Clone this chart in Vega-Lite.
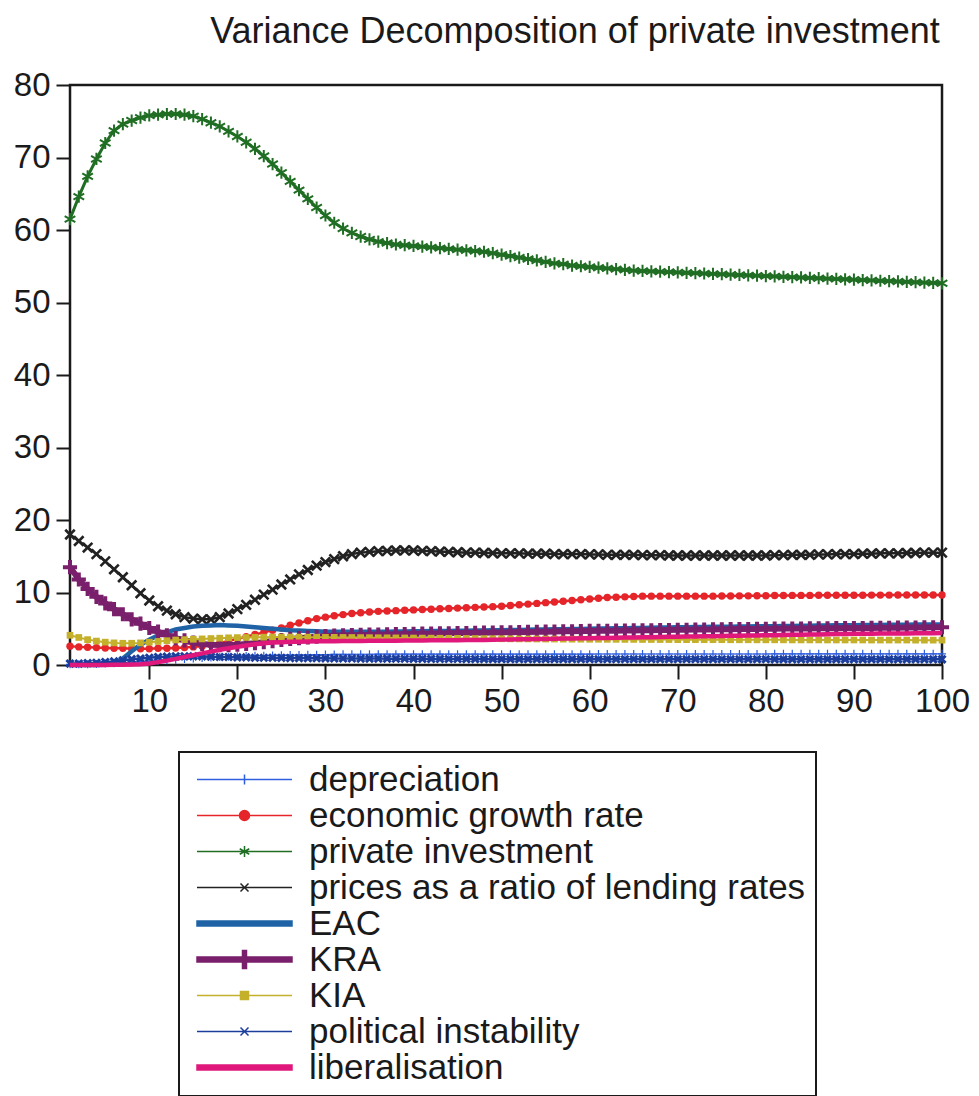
{
"$schema": "https://vega.github.io/schema/vega-lite/v6.json",
"autosize": {"type": "none"},
"padding": {"left": 70, "top": 85, "right": 37, "bottom": 431},
"width": 872,
"height": 580,
"background": "white",
"title": {"text": "Variance Decomposition of private investment", "fontSize": 36, "font": "Liberation Sans", "fontWeight": "normal", "color": "#1a1a1a", "anchor": "middle", "dx": 69, "offset": 18},
"data": {"values": [
{"p":1,"dep":0.1,"egr":2.6,"pi":61.5,"pr":18,"eac":0,"kra":13.5,"kia":4.1,"pol":0.2,"lib":0},
{"p":2,"dep":0.1,"egr":2.5,"pi":64.6,"pr":17.1,"eac":0,"kra":11.8,"kia":3.8,"pol":0.2,"lib":0},
{"p":3,"dep":0.12,"egr":2.45,"pi":67.4,"pr":16.2,"eac":0,"kra":10.5,"kia":3.5,"pol":0.25,"lib":0},
{"p":4,"dep":0.15,"egr":2.4,"pi":69.8,"pr":15.3,"eac":0,"kra":9.4,"kia":3.3,"pol":0.3,"lib":0},
{"p":5,"dep":0.2,"egr":2.35,"pi":72,"pr":14.3,"eac":0.05,"kra":8.5,"kia":3.15,"pol":0.4,"lib":0.01},
{"p":6,"dep":0.25,"egr":2.3,"pi":73.7,"pr":13.2,"eac":0.2,"kra":7.7,"kia":3.05,"pol":0.5,"lib":0.02},
{"p":7,"dep":0.3,"egr":2.3,"pi":74.6,"pr":12.1,"eac":0.9,"kra":7,"kia":3,"pol":0.65,"lib":0.04},
{"p":8,"dep":0.36,"egr":2.25,"pi":75.1,"pr":11,"eac":1.9,"kra":6.3,"kia":3,"pol":0.8,"lib":0.07},
{"p":9,"dep":0.43,"egr":2.25,"pi":75.5,"pr":9.9,"eac":2.8,"kra":5.7,"kia":3.05,"pol":0.9,"lib":0.12},
{"p":10,"dep":0.5,"egr":2.25,"pi":75.8,"pr":8.9,"eac":3.5,"kra":5.1,"kia":3.15,"pol":1,"lib":0.2},
{"p":11,"dep":0.58,"egr":2.3,"pi":75.9,"pr":8.1,"eac":4.1,"kra":4.6,"kia":3.25,"pol":1.1,"lib":0.4},
{"p":12,"dep":0.66,"egr":2.3,"pi":76,"pr":7.5,"eac":4.5,"kra":4.1,"kia":3.35,"pol":1.15,"lib":0.6},
{"p":13,"dep":0.74,"egr":2.35,"pi":76,"pr":7,"eac":4.9,"kra":3.7,"kia":3.45,"pol":1.2,"lib":0.85},
{"p":14,"dep":0.82,"egr":2.4,"pi":75.9,"pr":6.6,"eac":5.1,"kra":3.4,"kia":3.5,"pol":1.2,"lib":1.1},
{"p":15,"dep":0.9,"egr":2.5,"pi":75.7,"pr":6.4,"eac":5.3,"kra":3.1,"kia":3.55,"pol":1.2,"lib":1.35},
{"p":16,"dep":0.97,"egr":2.6,"pi":75.3,"pr":6.3,"eac":5.4,"kra":2.9,"kia":3.6,"pol":1.2,"lib":1.6},
{"p":17,"dep":1.03,"egr":2.8,"pi":74.8,"pr":6.3,"eac":5.45,"kra":2.8,"kia":3.65,"pol":1.15,"lib":1.85},
{"p":18,"dep":1.09,"egr":3,"pi":74.3,"pr":6.6,"eac":5.5,"kra":2.75,"kia":3.7,"pol":1.1,"lib":2.1},
{"p":19,"dep":1.14,"egr":3.3,"pi":73.6,"pr":7.1,"eac":5.45,"kra":2.75,"kia":3.75,"pol":1.1,"lib":2.3},
{"p":20,"dep":1.2,"egr":3.6,"pi":72.9,"pr":7.7,"eac":5.4,"kra":2.8,"kia":3.78,"pol":1.05,"lib":2.5},
{"p":21,"dep":1.23,"egr":3.9,"pi":72.1,"pr":8.3,"eac":5.3,"kra":2.9,"kia":3.8,"pol":1.05,"lib":2.7},
{"p":22,"dep":1.26,"egr":4.2,"pi":71.2,"pr":9,"eac":5.2,"kra":3,"kia":3.82,"pol":1,"lib":2.85},
{"p":23,"dep":1.29,"egr":4.5,"pi":70.2,"pr":9.7,"eac":5.1,"kra":3.15,"kia":3.84,"pol":1,"lib":3},
{"p":24,"dep":1.32,"egr":4.8,"pi":69.1,"pr":10.4,"eac":5,"kra":3.3,"kia":3.85,"pol":1,"lib":3.1},
{"p":25,"dep":1.35,"egr":5.1,"pi":67.9,"pr":11.1,"eac":4.9,"kra":3.45,"kia":3.85,"pol":0.98,"lib":3.15},
{"p":26,"dep":1.37,"egr":5.5,"pi":66.7,"pr":11.8,"eac":4.8,"kra":3.6,"kia":3.85,"pol":0.96,"lib":3.2},
{"p":27,"dep":1.39,"egr":5.8,"pi":65.5,"pr":12.5,"eac":4.75,"kra":3.7,"kia":3.85,"pol":0.95,"lib":3.22},
{"p":28,"dep":1.41,"egr":6.1,"pi":64.3,"pr":13.1,"eac":4.7,"kra":3.8,"kia":3.84,"pol":0.94,"lib":3.24},
{"p":29,"dep":1.43,"egr":6.4,"pi":63.1,"pr":13.7,"eac":4.65,"kra":3.9,"kia":3.83,"pol":0.93,"lib":3.26},
{"p":30,"dep":1.45,"egr":6.6,"pi":62,"pr":14.2,"eac":4.6,"kra":4,"kia":3.82,"pol":0.92,"lib":3.28},
{"p":31,"dep":1.46,"egr":6.8,"pi":61,"pr":14.6,"eac":4.6,"kra":4.05,"kia":3.81,"pol":0.91,"lib":3.29},
{"p":32,"dep":1.47,"egr":6.95,"pi":60.2,"pr":15,"eac":4.6,"kra":4.1,"kia":3.8,"pol":0.9,"lib":3.3},
{"p":33,"dep":1.47,"egr":7.1,"pi":59.6,"pr":15.3,"eac":4.6,"kra":4.12,"kia":3.79,"pol":0.9,"lib":3.31},
{"p":34,"dep":1.48,"egr":7.2,"pi":59.1,"pr":15.5,"eac":4.6,"kra":4.15,"kia":3.78,"pol":0.89,"lib":3.32},
{"p":35,"dep":1.48,"egr":7.3,"pi":58.7,"pr":15.6,"eac":4.6,"kra":4.18,"kia":3.77,"pol":0.88,"lib":3.33},
{"p":36,"dep":1.49,"egr":7.4,"pi":58.4,"pr":15.7,"eac":4.6,"kra":4.2,"kia":3.76,"pol":0.88,"lib":3.34},
{"p":37,"dep":1.49,"egr":7.45,"pi":58.2,"pr":15.75,"eac":4.6,"kra":4.22,"kia":3.75,"pol":0.87,"lib":3.35},
{"p":38,"dep":1.5,"egr":7.5,"pi":58,"pr":15.8,"eac":4.62,"kra":4.25,"kia":3.74,"pol":0.86,"lib":3.36},
{"p":39,"dep":1.5,"egr":7.55,"pi":57.9,"pr":15.8,"eac":4.63,"kra":4.27,"kia":3.73,"pol":0.86,"lib":3.37},
{"p":40,"dep":1.5,"egr":7.6,"pi":57.8,"pr":15.8,"eac":4.65,"kra":4.3,"kia":3.72,"pol":0.85,"lib":3.38},
{"p":41,"dep":1.5,"egr":7.65,"pi":57.7,"pr":15.75,"eac":4.66,"kra":4.32,"kia":3.71,"pol":0.85,"lib":3.39},
{"p":42,"dep":1.5,"egr":7.7,"pi":57.6,"pr":15.7,"eac":4.68,"kra":4.34,"kia":3.7,"pol":0.84,"lib":3.4},
{"p":43,"dep":1.5,"egr":7.75,"pi":57.5,"pr":15.65,"eac":4.69,"kra":4.36,"kia":3.69,"pol":0.84,"lib":3.41},
{"p":44,"dep":1.5,"egr":7.8,"pi":57.4,"pr":15.6,"eac":4.7,"kra":4.38,"kia":3.68,"pol":0.83,"lib":3.42},
{"p":45,"dep":1.5,"egr":7.85,"pi":57.3,"pr":15.55,"eac":4.72,"kra":4.4,"kia":3.67,"pol":0.83,"lib":3.43},
{"p":46,"dep":1.5,"egr":7.9,"pi":57.2,"pr":15.5,"eac":4.73,"kra":4.42,"kia":3.66,"pol":0.82,"lib":3.44},
{"p":47,"dep":1.5,"egr":7.95,"pi":57.1,"pr":15.5,"eac":4.75,"kra":4.44,"kia":3.65,"pol":0.82,"lib":3.45},
{"p":48,"dep":1.5,"egr":8,"pi":57,"pr":15.45,"eac":4.76,"kra":4.46,"kia":3.64,"pol":0.81,"lib":3.46},
{"p":49,"dep":1.5,"egr":8.05,"pi":56.8,"pr":15.45,"eac":4.78,"kra":4.48,"kia":3.63,"pol":0.81,"lib":3.48},
{"p":50,"dep":1.5,"egr":8.1,"pi":56.6,"pr":15.4,"eac":4.8,"kra":4.5,"kia":3.62,"pol":0.8,"lib":3.5},
{"p":51,"dep":1.5,"egr":8.2,"pi":56.4,"pr":15.4,"eac":4.82,"kra":4.52,"kia":3.61,"pol":0.8,"lib":3.52},
{"p":52,"dep":1.5,"egr":8.3,"pi":56.2,"pr":15.4,"eac":4.84,"kra":4.54,"kia":3.6,"pol":0.8,"lib":3.54},
{"p":53,"dep":1.5,"egr":8.4,"pi":56,"pr":15.35,"eac":4.86,"kra":4.56,"kia":3.6,"pol":0.8,"lib":3.56},
{"p":54,"dep":1.5,"egr":8.5,"pi":55.8,"pr":15.35,"eac":4.88,"kra":4.58,"kia":3.59,"pol":0.8,"lib":3.58},
{"p":55,"dep":1.5,"egr":8.6,"pi":55.6,"pr":15.35,"eac":4.9,"kra":4.6,"kia":3.58,"pol":0.8,"lib":3.6},
{"p":56,"dep":1.5,"egr":8.7,"pi":55.4,"pr":15.3,"eac":4.92,"kra":4.62,"kia":3.58,"pol":0.8,"lib":3.62},
{"p":57,"dep":1.5,"egr":8.8,"pi":55.3,"pr":15.3,"eac":4.94,"kra":4.64,"kia":3.57,"pol":0.8,"lib":3.64},
{"p":58,"dep":1.5,"egr":8.9,"pi":55.1,"pr":15.3,"eac":4.96,"kra":4.66,"kia":3.56,"pol":0.8,"lib":3.66},
{"p":59,"dep":1.5,"egr":9,"pi":55,"pr":15.3,"eac":4.98,"kra":4.68,"kia":3.56,"pol":0.8,"lib":3.68},
{"p":60,"dep":1.5,"egr":9.1,"pi":54.9,"pr":15.25,"eac":5,"kra":4.7,"kia":3.55,"pol":0.8,"lib":3.7},
{"p":61,"dep":1.52,"egr":9.2,"pi":54.8,"pr":15.25,"eac":5.02,"kra":4.71,"kia":3.55,"pol":0.79,"lib":3.72},
{"p":62,"dep":1.52,"egr":9.3,"pi":54.7,"pr":15.2,"eac":5.04,"kra":4.73,"kia":3.54,"pol":0.79,"lib":3.74},
{"p":63,"dep":1.52,"egr":9.35,"pi":54.6,"pr":15.2,"eac":5.06,"kra":4.74,"kia":3.54,"pol":0.79,"lib":3.76},
{"p":64,"dep":1.52,"egr":9.4,"pi":54.5,"pr":15.2,"eac":5.08,"kra":4.76,"kia":3.53,"pol":0.79,"lib":3.78},
{"p":65,"dep":1.52,"egr":9.45,"pi":54.4,"pr":15.2,"eac":5.1,"kra":4.77,"kia":3.53,"pol":0.79,"lib":3.8},
{"p":66,"dep":1.52,"egr":9.5,"pi":54.35,"pr":15.15,"eac":5.12,"kra":4.79,"kia":3.52,"pol":0.79,"lib":3.82},
{"p":67,"dep":1.52,"egr":9.5,"pi":54.3,"pr":15.15,"eac":5.14,"kra":4.8,"kia":3.52,"pol":0.79,"lib":3.84},
{"p":68,"dep":1.52,"egr":9.5,"pi":54.25,"pr":15.15,"eac":5.16,"kra":4.82,"kia":3.51,"pol":0.79,"lib":3.86},
{"p":69,"dep":1.52,"egr":9.5,"pi":54.2,"pr":15.1,"eac":5.18,"kra":4.83,"kia":3.51,"pol":0.79,"lib":3.88},
{"p":70,"dep":1.52,"egr":9.5,"pi":54.15,"pr":15.1,"eac":5.2,"kra":4.85,"kia":3.5,"pol":0.79,"lib":3.9},
{"p":71,"dep":1.52,"egr":9.5,"pi":54.1,"pr":15.1,"eac":5.21,"kra":4.86,"kia":3.5,"pol":0.79,"lib":3.92},
{"p":72,"dep":1.52,"egr":9.5,"pi":54.05,"pr":15.1,"eac":5.23,"kra":4.88,"kia":3.5,"pol":0.79,"lib":3.94},
{"p":73,"dep":1.52,"egr":9.5,"pi":54,"pr":15.1,"eac":5.24,"kra":4.89,"kia":3.49,"pol":0.79,"lib":3.96},
{"p":74,"dep":1.52,"egr":9.5,"pi":53.95,"pr":15.1,"eac":5.26,"kra":4.91,"kia":3.49,"pol":0.79,"lib":3.98},
{"p":75,"dep":1.52,"egr":9.52,"pi":53.9,"pr":15.1,"eac":5.27,"kra":4.92,"kia":3.49,"pol":0.79,"lib":4},
{"p":76,"dep":1.52,"egr":9.52,"pi":53.85,"pr":15.1,"eac":5.29,"kra":4.94,"kia":3.48,"pol":0.79,"lib":4.02},
{"p":77,"dep":1.52,"egr":9.54,"pi":53.8,"pr":15.1,"eac":5.3,"kra":4.95,"kia":3.48,"pol":0.79,"lib":4.04},
{"p":78,"dep":1.52,"egr":9.54,"pi":53.75,"pr":15.1,"eac":5.32,"kra":4.97,"kia":3.48,"pol":0.79,"lib":4.06},
{"p":79,"dep":1.52,"egr":9.56,"pi":53.7,"pr":15.1,"eac":5.33,"kra":4.98,"kia":3.47,"pol":0.79,"lib":4.08},
{"p":80,"dep":1.52,"egr":9.56,"pi":53.65,"pr":15.1,"eac":5.35,"kra":5,"kia":3.47,"pol":0.79,"lib":4.1},
{"p":81,"dep":1.54,"egr":9.58,"pi":53.6,"pr":15.15,"eac":5.36,"kra":5.01,"kia":3.47,"pol":0.78,"lib":4.12},
{"p":82,"dep":1.54,"egr":9.58,"pi":53.55,"pr":15.15,"eac":5.38,"kra":5.02,"kia":3.47,"pol":0.78,"lib":4.14},
{"p":83,"dep":1.54,"egr":9.6,"pi":53.5,"pr":15.2,"eac":5.39,"kra":5.03,"kia":3.46,"pol":0.78,"lib":4.16},
{"p":84,"dep":1.54,"egr":9.6,"pi":53.45,"pr":15.2,"eac":5.41,"kra":5.04,"kia":3.46,"pol":0.78,"lib":4.18},
{"p":85,"dep":1.54,"egr":9.6,"pi":53.4,"pr":15.2,"eac":5.42,"kra":5.05,"kia":3.46,"pol":0.78,"lib":4.2},
{"p":86,"dep":1.54,"egr":9.62,"pi":53.35,"pr":15.25,"eac":5.44,"kra":5.06,"kia":3.46,"pol":0.78,"lib":4.22},
{"p":87,"dep":1.54,"egr":9.62,"pi":53.3,"pr":15.25,"eac":5.45,"kra":5.07,"kia":3.45,"pol":0.78,"lib":4.24},
{"p":88,"dep":1.54,"egr":9.62,"pi":53.25,"pr":15.3,"eac":5.47,"kra":5.08,"kia":3.45,"pol":0.78,"lib":4.26},
{"p":89,"dep":1.54,"egr":9.63,"pi":53.2,"pr":15.3,"eac":5.48,"kra":5.09,"kia":3.45,"pol":0.78,"lib":4.28},
{"p":90,"dep":1.54,"egr":9.63,"pi":53.15,"pr":15.3,"eac":5.5,"kra":5.1,"kia":3.45,"pol":0.78,"lib":4.3},
{"p":91,"dep":1.54,"egr":9.63,"pi":53.1,"pr":15.35,"eac":5.51,"kra":5.11,"kia":3.45,"pol":0.78,"lib":4.31},
{"p":92,"dep":1.54,"egr":9.64,"pi":53.05,"pr":15.35,"eac":5.52,"kra":5.12,"kia":3.44,"pol":0.78,"lib":4.32},
{"p":93,"dep":1.54,"egr":9.64,"pi":53,"pr":15.4,"eac":5.53,"kra":5.13,"kia":3.44,"pol":0.78,"lib":4.33},
{"p":94,"dep":1.54,"egr":9.64,"pi":52.95,"pr":15.4,"eac":5.54,"kra":5.14,"kia":3.44,"pol":0.78,"lib":4.34},
{"p":95,"dep":1.54,"egr":9.65,"pi":52.9,"pr":15.4,"eac":5.55,"kra":5.15,"kia":3.44,"pol":0.78,"lib":4.35},
{"p":96,"dep":1.54,"egr":9.65,"pi":52.85,"pr":15.45,"eac":5.56,"kra":5.16,"kia":3.44,"pol":0.78,"lib":4.36},
{"p":97,"dep":1.54,"egr":9.65,"pi":52.8,"pr":15.45,"eac":5.57,"kra":5.17,"kia":3.43,"pol":0.78,"lib":4.37},
{"p":98,"dep":1.54,"egr":9.65,"pi":52.75,"pr":15.5,"eac":5.58,"kra":5.18,"kia":3.43,"pol":0.78,"lib":4.38},
{"p":99,"dep":1.54,"egr":9.65,"pi":52.7,"pr":15.5,"eac":5.59,"kra":5.19,"kia":3.43,"pol":0.78,"lib":4.39},
{"p":100,"dep":1.54,"egr":9.65,"pi":52.65,"pr":15.5,"eac":5.6,"kra":5.2,"kia":3.43,"pol":0.78,"lib":4.4}
]},
"transform": [{"fold": ["dep","egr","pi","pr","eac","kra","kia","pol","lib"], "as": ["key","v"]}],
"encoding": {
  "x": {"field": "p", "type": "quantitative", "scale": {"domain": [1, 100], "nice": false, "zero": false},
        "axis": {"title": null, "values": [10,20,30,40,50,60,70,80,90,100], "tickSize": 14, "labelPadding": 6, "labelFlush": false}},
  "y": {"field": "v", "type": "quantitative", "scale": {"domain": [0, 80], "nice": false},
        "axis": {"title": null, "values": [0,10,20,30,40,50,60,70,80], "tickSize": 14, "labelPadding": 6, "labelFlush": false}},
  "color": {"field": "key", "type": "nominal",
    "scale": {"domain": ["dep","egr","pi","pr","eac","kra","kia","pol","lib"],
              "range": ["#2f5fe0","#e5252a","#1f6e23","#222222","#1f63a6","#7a1f6b","#c4b02a","#1b3d9b","#e0187c"]},
    "legend": {
      "orient": "none", "legendX": 109, "legendY": 667, "direction": "vertical", "title": null,
      "labelFont": "Liberation Sans", "labelFontSize": 35, "labelColor": "#1a1a1a", "labelLimit": 800,
      "symbolSize": 100, "symbolOffset": 38, "labelOffset": 47, "rowPadding": 0, "padding": 10,
      "strokeColor": "#1a1a1a", "fillColor": "white", "symbolStrokeWidth": 1.5,
      "labelExpr": "{'dep':'depreciation','egr':'economic growth rate','pi':'private investment','pr':'prices as a ratio of lending rates','eac':'EAC','kra':'KRA','kia':'KIA','pol':'political instability','lib':'liberalisation'}[datum.label]",
      "encode": {"symbols": {"update": {
        "shape": {"signal": "datum.value==='dep'?'M-9.5,0H9.5M0,-1V1':datum.value==='egr'?'M-9.5,0H9.5M1,0A1,1,0,1,1,-1,0A1,1,0,1,1,1,0Z':datum.value==='pi'?'M-9.5,0H9.5M0,-1.1V1.1M-0.95,-0.55L0.95,0.55M-0.95,0.55L0.95,-0.55':datum.value==='pr'?'M-9.5,0H9.5M-0.8,-0.8L0.8,0.8M-0.8,0.8L0.8,-0.8':datum.value==='eac'?'M-9.5,-0.5H9.5V0.5H-9.5Z':datum.value==='kra'?'M-9.5,-0.5H9.5V0.5H-9.5ZM-0.4,-1.8H0.4V1.8H-0.4Z':datum.value==='kia'?'M-9.5,0H9.5M-0.8,-0.8H0.8V0.8H-0.8Z':datum.value==='pol'?'M-9.5,0H9.5M-0.8,-0.8L0.8,0.8M-0.8,0.8L0.8,-0.8':'M-9.5,-0.5H9.5V0.5H-9.5Z'"},
        "fill": {"scale": "color", "field": "value"},
        "stroke": {"scale": "color", "field": "value"},
        "strokeWidth": {"value": 1.5},
        "opacity": {"value": 1},
        "fillOpacity": {"value": 1},
        "strokeOpacity": {"value": 1}
      }}}
    }}
},
"layer": [
  {"transform": [{"filter": {"field": "key", "equal": "dep"}}], "mark": {"type": "line", "strokeWidth": 1.2}},
  {"transform": [{"filter": {"field": "key", "equal": "dep"}}], "mark": {"type": "point", "shape": "M0,-1V1M-1,0H1", "size": 64, "filled": false, "strokeWidth": 1.2, "opacity": 1}, "encoding": {"color": {"value": "#2f5fe0"}}},
  {"transform": [{"filter": {"field": "key", "equal": "egr"}}], "mark": {"type": "line", "strokeWidth": 2.5}},
  {"transform": [{"filter": {"field": "key", "equal": "egr"}}], "mark": {"type": "point", "shape": "circle", "size": 55, "filled": true, "opacity": 1}, "encoding": {"color": {"value": "#e5252a"}}},
  {"transform": [{"filter": {"field": "key", "equal": "pi"}}], "mark": {"type": "line", "strokeWidth": 3}},
  {"transform": [{"filter": {"field": "key", "equal": "pi"}}], "mark": {"type": "point", "shape": "M0,-1V1M-0.87,-0.5L0.87,0.5M-0.87,0.5L0.87,-0.5", "size": 150, "filled": false, "strokeWidth": 2, "opacity": 1}, "encoding": {"color": {"value": "#1f6e23"}}},
  {"transform": [{"filter": {"field": "key", "equal": "pr"}}], "mark": {"type": "line", "strokeWidth": 2.5}},
  {"transform": [{"filter": {"field": "key", "equal": "pr"}}], "mark": {"type": "point", "shape": "M-1,-1L1,1M-1,1L1,-1", "size": 90, "filled": false, "strokeWidth": 2.6, "opacity": 1}, "encoding": {"color": {"value": "#222222"}}},
  {"transform": [{"filter": {"field": "key", "equal": "eac"}}], "mark": {"type": "line", "strokeWidth": 4.5}},
  {"transform": [{"filter": {"field": "key", "equal": "kra"}}], "mark": {"type": "line", "strokeWidth": 6}},
  {"transform": [{"filter": {"field": "key", "equal": "kra"}}], "mark": {"type": "point", "shape": "M0,-1V1M-1,0H1", "size": 200, "filled": false, "strokeWidth": 4, "opacity": 1}, "encoding": {"color": {"value": "#7a1f6b"}}},
  {"transform": [{"filter": {"field": "key", "equal": "kia"}}], "mark": {"type": "line", "strokeWidth": 2}},
  {"transform": [{"filter": {"field": "key", "equal": "kia"}}], "mark": {"type": "point", "shape": "square", "size": 45, "filled": true, "opacity": 1}, "encoding": {"color": {"value": "#c4b02a"}}},
  {"transform": [{"filter": {"field": "key", "equal": "pol"}}], "mark": {"type": "line", "strokeWidth": 2.5}},
  {"transform": [{"filter": {"field": "key", "equal": "pol"}}], "mark": {"type": "point", "shape": "M-1,-1L1,1M-1,1L1,-1", "size": 50, "filled": false, "strokeWidth": 3, "opacity": 1}, "encoding": {"color": {"value": "#1b3d9b"}}},
  {"transform": [{"filter": {"field": "key", "equal": "lib"}}], "mark": {"type": "line", "strokeWidth": 4.5}}
],
"config": {
  "view": {"stroke": "#1a1a1a", "strokeWidth": 2.5},
  "axis": {"grid": false, "domain": false, "labelFont": "Liberation Sans", "labelFontSize": 33, "labelColor": "#1a1a1a", "tickColor": "#1a1a1a", "tickWidth": 2},
  "legend": {"strokeWidth": 2}
}
}
